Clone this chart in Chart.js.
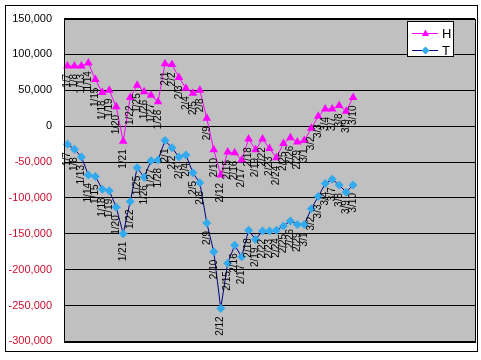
<!DOCTYPE html>
<html>
<head>
<meta charset="utf-8">
<script src="https://cdn.jsdelivr.net/npm/chart.js@4.4.0/dist/chart.umd.min.js"></script>
<style>
  html, body { margin: 0; padding: 0; background: #fff; }
  #wrap { width: 481px; height: 360px; }
</style>
</head>
<body>
<div id="wrap"><canvas id="chart" width="481" height="360"></canvas></div>
<script>
// trading days shown on the chart
const dates = ['1/7', '1/8', '1/13', '1/14', '1/15', '1/18', '1/19', '1/20', '1/21', '1/22',
    '1/25', '1/26', '1/27', '1/28', '2/1', '2/2', '2/3', '2/4', '2/5', '2/8',
    '2/9', '2/10', '2/12', '2/15', '2/16', '2/17', '2/18', '2/19', '2/22', '2/23',
    '2/24', '2/25', '2/26', '2/29', '3/1', '3/2', '3/3', '3/4', '3/7', '3/8',
    '3/9', '3/10'];
// the category axis keeps room for days not filled in yet
const emptySlots = 17;

const hValues = [84000, 84000, 84000, 88000, 65000, 47000, 50000, 27000, -21000, 40000,
    57000, 48000, 43000, 34000, 87000, 86000, 68000, 53000, 46000, 50000,
    11000, -33000, -68000, -36000, -37000, -47000, -18000, -33000, -18000, -31000,
    -44000, -24000, -16000, -22000, -20000, -3000, 14000, 24000, 24000, 29000,
    21000, 40000];
const tValues = [-25000, -32000, -43000, -68000, -70000, -88000, -90000, -113000, -150000, -105000,
    -58000, -71000, -48000, -47000, -20000, -30000, -43000, -40000, -65000, -79000,
    -135000, -175000, -254000, -191000, -166000, -182000, -145000, -158000, -146000, -146000,
    -145000, -139000, -132000, -137000, -137000, -115000, -98000, -80000, -74000, -82000,
    -92000, -82000];

const yMin = -300000;
const yMax = 150000;
const yStep = 50000;

const labels = dates.concat(new Array(emptySlots).fill(''));
const FONT = "'Liberation Sans', Arial, sans-serif";
const H_COLOR = '#ff00ff';
const T_LINE = '#000080';
const T_MARK = '#33aaee';

function triangle(ctx, x, y, r) {
    ctx.beginPath();
    ctx.moveTo(x, y - r);
    ctx.lineTo(x + r * 0.9, y + r * 0.6);
    ctx.lineTo(x - r * 0.9, y + r * 0.6);
    ctx.closePath();
    ctx.fill();
}
function diamond(ctx, x, y, r) {
    ctx.beginPath();
    ctx.moveTo(x, y - r);
    ctx.lineTo(x + r, y);
    ctx.lineTo(x, y + r);
    ctx.lineTo(x - r, y);
    ctx.closePath();
    ctx.fill();
}

const excelLook = {
    id: 'excelLook',
    beforeDraw(chart) {
        const { ctx, chartArea: a } = chart;
        ctx.save();
        ctx.fillStyle = '#ffffff';
        ctx.fillRect(0, 0, chart.width, chart.height);
        ctx.strokeStyle = '#000';
        ctx.lineWidth = 1;
        ctx.strokeRect(5.5, 5.5, 472, 346);
        ctx.fillStyle = '#c0c0c0';
        ctx.fillRect(a.left, a.top, a.right - a.left, a.bottom - a.top);
        ctx.restore();
    },
    afterDatasetsDraw(chart) {
        // date labels under every point, turned to read upward
        const ctx = chart.ctx;
        ctx.save();
        ctx.font = '10px ' + FONT;
        ctx.fillStyle = '#000';
        ctx.textAlign = 'right';
        ctx.textBaseline = 'middle';
        chart.data.datasets.forEach((ds, i) => {
            chart.getDatasetMeta(i).data.forEach((pt, j) => {
                if (ds.data[j] == null) return;
                ctx.save();
                ctx.translate(pt.x, pt.y + 8);
                ctx.rotate(-Math.PI / 2);
                ctx.fillText(dates[j], 0, 0);
                ctx.restore();
            });
        });
        ctx.restore();
    },
    afterDraw(chart) {
        const { ctx, chartArea: a } = chart;
        ctx.save();
        ctx.strokeStyle = '#000';
        ctx.lineWidth = 1;
        ctx.strokeRect(Math.round(a.left) + 0.5, Math.round(a.top) + 0.5,
            Math.round(a.right - a.left), Math.round(a.bottom - a.top));

        // legend box
        const bx = 407.5, by = 21.5, bw = 46, bh = 35;
        ctx.fillStyle = '#fff';
        ctx.fillRect(bx, by, bw, bh);
        ctx.strokeRect(bx, by, bw, bh);
        ctx.font = '13px ' + FONT;
        ctx.textBaseline = 'middle';
        ctx.textAlign = 'left';
        const rows = [
            { name: 'H', y: 33, line: H_COLOR, mark: H_COLOR, shape: triangle },
            { name: 'T', y: 50, line: T_LINE, mark: T_MARK, shape: diamond }
        ];
        rows.forEach(r => {
            ctx.strokeStyle = r.line;
            ctx.beginPath();
            ctx.moveTo(412, r.y + 0.5);
            ctx.lineTo(438, r.y + 0.5);
            ctx.stroke();
            ctx.fillStyle = r.mark;
            r.shape(ctx, 425.5, r.y + 0.5, 4);
            ctx.fillStyle = '#000';
            ctx.fillText(r.name, 442, r.y + 1);
        });
        ctx.restore();
    }
};

new Chart(document.getElementById('chart').getContext('2d'), {
    type: 'line',
    data: {
        labels: labels,
        datasets: [
            {
                label: 'H',
                data: hValues,
                borderColor: H_COLOR,
                backgroundColor: H_COLOR,
                borderWidth: 1,
                pointStyle: 'triangle',
                pointRadius: 5,
                pointBorderWidth: 0,
                pointBackgroundColor: H_COLOR,
                tension: 0
            },
            {
                label: 'T',
                data: tValues,
                borderColor: T_LINE,
                backgroundColor: T_MARK,
                borderWidth: 1,
                pointStyle: 'rectRot',
                pointRadius: 4.5,
                pointBorderWidth: 0,
                pointBackgroundColor: T_MARK,
                tension: 0
            }
        ]
    },
    options: {
        responsive: false,
        animation: false,
        devicePixelRatio: 1,
        layout: { padding: { left: 0, right: 6, top: 15.5, bottom: 14.5 } },
        scales: {
            x: {
                type: 'category',
                offset: true,
                display: false
            },
            y: {
                min: yMin,
                max: yMax,
                afterFit: function (scale) {
                    scale.width = 64;
                },
                ticks: {
                    stepSize: yStep,
                    padding: 12,
                    font: { family: FONT, size: 11 },
                    color: function (c) {
                        return c.tick.value < 0 ? '#c8102e' : '#000';
                    },
                    callback: function (value) {
                        return value.toLocaleString('en-US');
                    }
                },
                grid: {
                    color: '#000',
                    lineWidth: 1,
                    drawTicks: false
                },
                border: { display: true, color: '#000' }
            }
        },
        plugins: {
            legend: { display: false },
            tooltip: { enabled: false }
        }
    },
    plugins: [excelLook]
});
</script>
</body>
</html>
